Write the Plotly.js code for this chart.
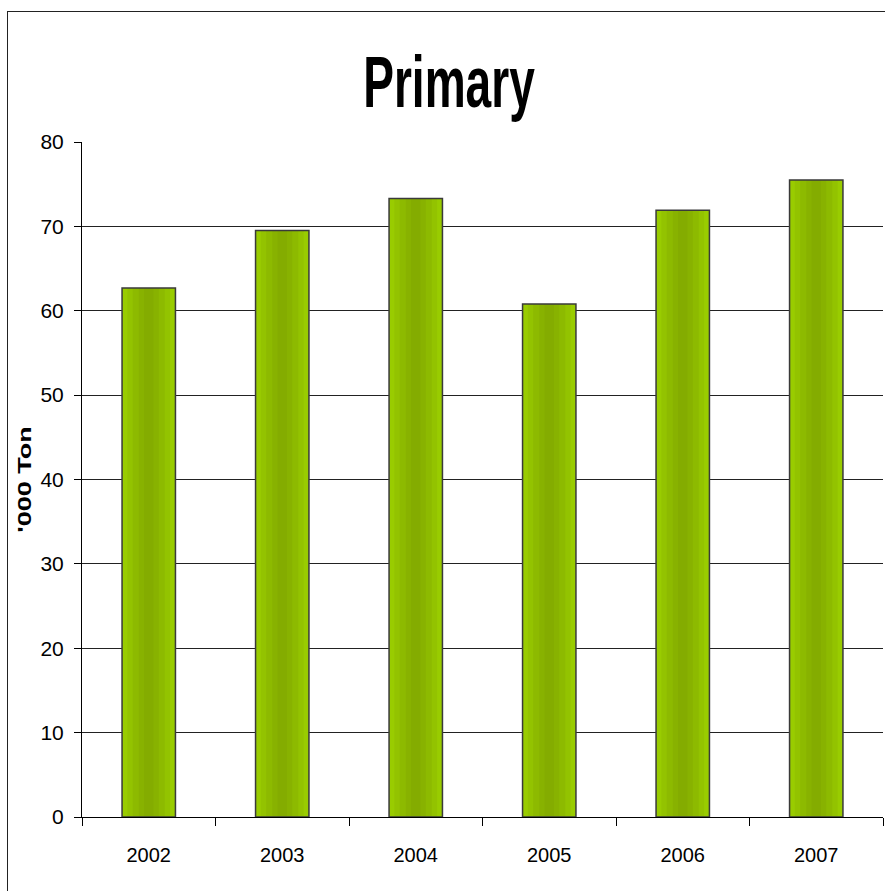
<!DOCTYPE html>
<html>
<head>
<meta charset="utf-8">
<script src="https://cdn.plot.ly/plotly-3.0.1.min.js"></script>
<style>
  html, body { margin: 0; padding: 0; background: #fff; }
  #wrap { position: relative; width: 885px; height: 891px; overflow: hidden; }
  #frame { position: absolute; left: 7px; top: 11px; width: 900px; height: 900px;
           border-left: 1px solid #222; border-top: 1px solid #222; pointer-events: none; z-index: 5; }
  #chart { position: absolute; left: 0; top: 0; width: 885px; height: 891px; }
</style>
</head>
<body>
<div id="wrap">
  <div id="chart"></div>
  <div id="frame"></div>
</div>
<script>
// Data
const years = ['2002', '2003', '2004', '2005', '2006', '2007'];
const values = [62.7, 69.5, 73.3, 60.8, 71.9, 75.5];
const yTicks = [0, 10, 20, 30, 40, 50, 60, 70, 80];
const chartTitle = 'Primary';
const yTitle = "'000 Ton";

const sans = '"Liberation Sans", Arial, sans-serif';

// gradient simulated with stacked overlays of decreasing width
const layers = [
  { w: 0.40, c: '#99CC00' },
  { w: 0.32, c: '#93C300' },
  { w: 0.24, c: '#8DBA00' },
  { w: 0.15, c: '#88B200' },
  { w: 0.07, c: '#84AC00' }
];
const traces = layers.map(l => ({
  type: 'bar', x: years, y: values,
  width: years.map(() => l.w),
  marker: { color: l.c, line: { width: 0 } },
  hoverinfo: 'skip', showlegend: false
}));
traces.push({
  type: 'bar', x: years, y: values,
  width: years.map(() => 0.40),
  marker: { color: 'rgba(0,0,0,0)', line: { color: '#3a3a3a', width: 1.5 } },
  showlegend: false
});

const layout = {
  width: 885, height: 891,
  margin: { l: 82, r: 2, t: 142, b: 74 },
  paper_bgcolor: '#ffffff', plot_bgcolor: '#ffffff',
  barmode: 'overlay',
  showlegend: false,
  title: {
    text: '<b>' + chartTitle + '</b>',
    font: { family: sans, size: 72, color: '#000' },
    x: 449 / 885, xanchor: 'center', xref: 'container',
    y: 1 - 82 / 891, yanchor: 'middle', yref: 'container'
  },
  xaxis: {
    type: 'category',
    tickson: 'boundaries',
    ticks: 'outside', ticklen: 8, tickcolor: '#000', tickwidth: 1,
    showline: true, linecolor: '#000', linewidth: 1,
    showgrid: false, zeroline: false,
    tickfont: { family: sans, size: 20, color: '#000' },
    ticklabelstandoff: 20
  },
  yaxis: {
    range: [0, 80],
    tickvals: yTicks,
    ticks: 'outside', ticklen: 7, tickcolor: '#000', tickwidth: 1,
    showline: true, linecolor: '#000', linewidth: 1,
    showgrid: true, gridcolor: '#222', gridwidth: 1,
    zeroline: false,
    tickfont: { family: sans, size: 21, color: '#000' },
    ticklabelstandoff: 6,
    title: {
      text: '<b>' + yTitle + '</b>',
      font: { family: sans, size: 18, color: '#000' },
      standoff: 4
    }
  }
};

function stretch(el, sx) {
  if (!el) return;
  const x = parseFloat(el.getAttribute('x')) || 0;
  const y = parseFloat(el.getAttribute('y')) || 0;
  const prev = el.getAttribute('transform') || '';
  el.setAttribute('transform', prev + ` translate(${x},${y}) scale(${sx},1) translate(${-x},${-y})`);
}

Plotly.newPlot('chart', traces, layout, { staticPlot: true, displayModeBar: false }).then(gd => {
  stretch(gd.querySelector('.infolayer text.gtitle'), 0.64);
  stretch(gd.querySelector('.infolayer text.ytitle'), 1.5);
});
</script>
</body>
</html>
